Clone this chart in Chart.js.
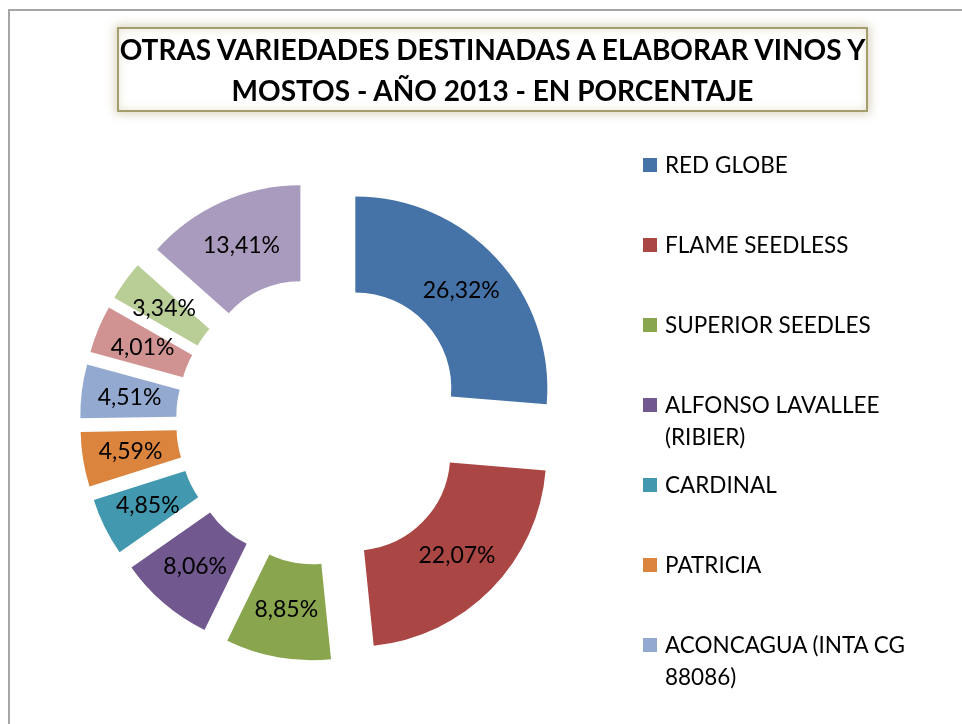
<!DOCTYPE html>
<html>
<head>
<meta charset="utf-8">
<script src="https://cdn.jsdelivr.net/npm/chart.js@4"></script>
<style>
  html, body { margin: 0; padding: 0; background: #fff; overflow: hidden; }
  body { width: 962px; height: 724px; position: relative; font-family: Lato, "Open Sans", sans-serif; }
  #frame {
    position: absolute; left: 8px; top: 9px; width: 952px; height: 713px;
    border-top: 2px solid #a6a6a6; border-left: 2px solid #a6a6a6;
  }
  #chart { position: absolute; left: 0; top: 0; }
  #title {
    position: absolute; left: 117px; top: 27px; width: 747px; height: 81px;
    border: 2px solid #a49d6c;
    box-shadow: 0 0 9px 2px rgba(170, 160, 110, 0.45), inset 0 0 10px rgba(190, 180, 130, 0.35);
    background: #fff;
    text-align: center; font-weight: bold; font-size: 28px; line-height: 41px; color: #000;
  }
  #legend { position: absolute; left: 643px; top: 149px; }
  .item { position: absolute; left: 0; width: 300px; height: 80px; }
  .item .box { position: absolute; left: 0; top: 9px; width: 14px; height: 14px; }
  .item .txt { position: absolute; left: 22px; top: 0; width: 270px; font-size: 22.5px; line-height: 32px; color: #000; }
</style>
</head>
<body>
<div id="frame"></div>
<canvas id="chart" width="962" height="724"></canvas>
<div id="title">OTRAS VARIEDADES DESTINADAS A ELABORAR VINOS Y<br>MOSTOS - AÑO 2013 - EN PORCENTAJE</div>
<div id="legend"></div>
<script>
// datos (porcentajes año 2013)
const variedades = [
  "RED GLOBE",
  "FLAME SEEDLESS",
  "SUPERIOR SEEDLES",
  "ALFONSO LAVALLEE (RIBIER)",
  "CARDINAL",
  "PATRICIA",
  "ACONCAGUA (INTA CG 88086)",
  "OTRA VARIEDAD 1",
  "OTRA VARIEDAD 2",
  "OTRAS"
];
const porcentajes = [26.32, 22.07, 8.85, 8.06, 4.85, 4.59, 4.51, 4.01, 3.34, 13.41];
const colores = ["#4572a7", "#aa4643", "#89a54e", "#71588f", "#4198af",
                 "#db843d", "#93a9cf", "#d19392", "#b9cd96", "#a99bbd"];
// la leyenda del original sólo alcanza a mostrar las primeras 7 entradas
const LEYENDA_VISIBLE = 7;

const EXPLODE = 48; // separación de cada porción

// dibuja las porciones desplazadas sobre su bisectriz
const explodePlugin = {
  id: 'explode',
  beforeDatasetDraw(chart, args) {
    const ctx = chart.ctx;
    args.meta.data.forEach(arc => {
      const mid = (arc.startAngle + arc.endAngle) / 2;
      ctx.save();
      ctx.translate(Math.cos(mid) * EXPLODE, Math.sin(mid) * EXPLODE);
      arc.draw(ctx);
      ctx.restore();
    });
    return false;
  }
};

// etiquetas de porcentaje en el centro de cada porción
const labelPlugin = {
  id: 'pctLabels',
  afterDatasetsDraw(chart) {
    const ctx = chart.ctx;
    const meta = chart.getDatasetMeta(0);
    ctx.save();
    ctx.font = '23px Lato, "Open Sans", sans-serif';
    ctx.fillStyle = '#000';
    ctx.textAlign = 'center';
    ctx.textBaseline = 'middle';
    meta.data.forEach((arc, i) => {
      const mid = (arc.startAngle + arc.endAngle) / 2;
      const r = (arc.innerRadius + arc.outerRadius) / 2 + EXPLODE;
      const txt = porcentajes[i].toFixed(2).replace('.', ',') + '%';
      ctx.fillText(txt, arc.x + Math.cos(mid) * r, arc.y + Math.sin(mid) * r);
    });
    ctx.restore();
  }
};

new Chart(document.getElementById('chart'), {
  type: 'doughnut',
  data: {
    labels: variedades,
    datasets: [{
      data: porcentajes,
      backgroundColor: colores,
      borderWidth: 0
    }]
  },
  options: {
    responsive: false,
    animation: false,
    radius: 192,
    cutout: '50%',
    layout: { padding: { left: 20, right: 342, top: 140, bottom: 22 } },
    plugins: {
      legend: { display: false },
      tooltip: { enabled: false },
      title: { display: false }
    }
  },
  plugins: [explodePlugin, labelPlugin]
});

// leyenda
const legend = document.getElementById('legend');
variedades.slice(0, LEYENDA_VISIBLE).forEach((v, i) => {
  const item = document.createElement('div');
  item.className = 'item';
  item.style.top = (i * 80) + 'px';
  const box = document.createElement('span');
  box.className = 'box';
  box.style.background = colores[i];
  const txt = document.createElement('span');
  txt.className = 'txt';
  txt.textContent = v;
  item.appendChild(box);
  item.appendChild(txt);
  legend.appendChild(item);
});
</script>
</body>
</html>
